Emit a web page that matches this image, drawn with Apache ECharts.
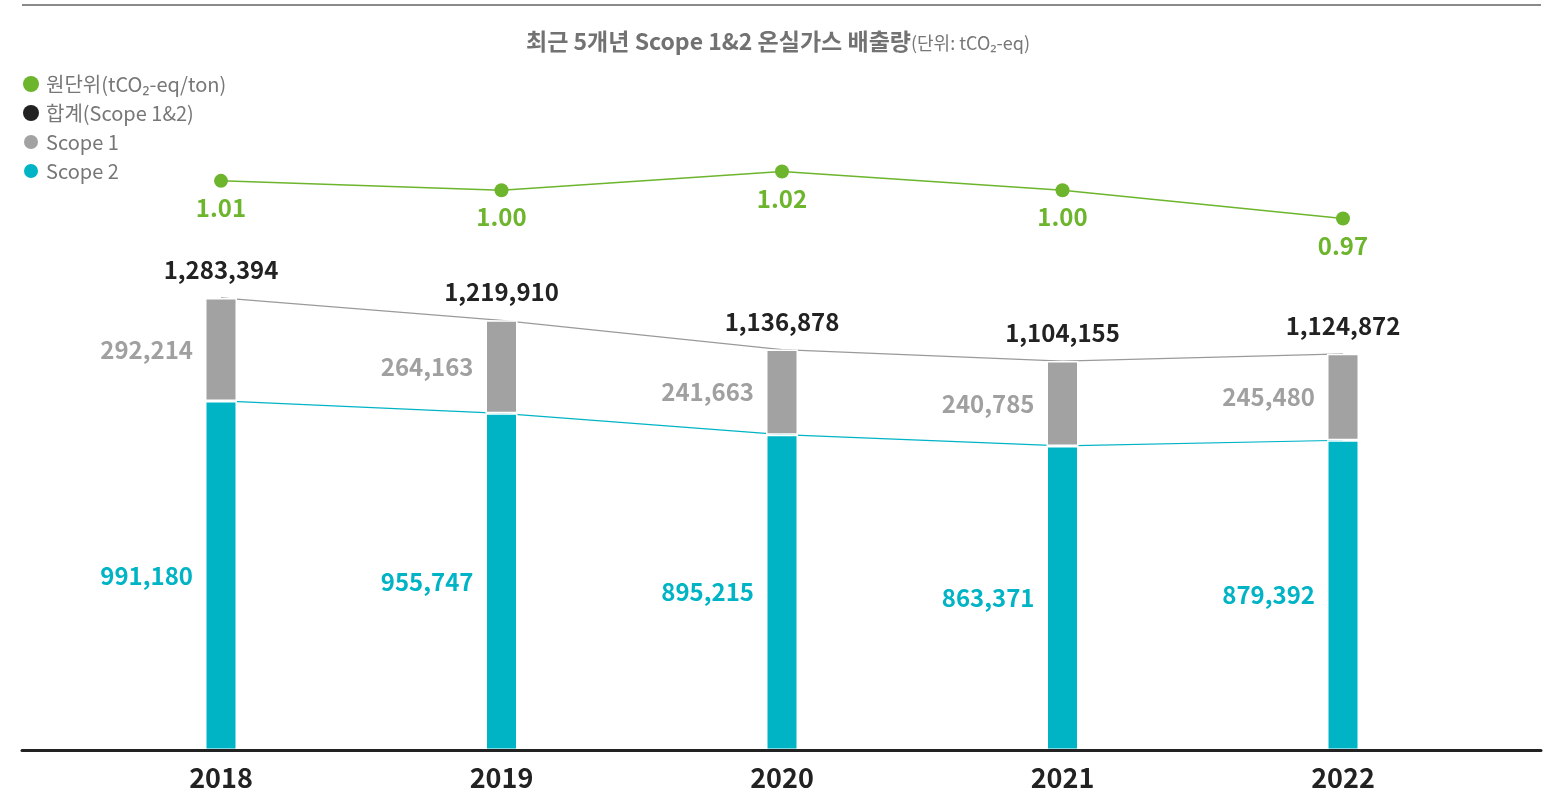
<!DOCTYPE html>
<html>
<head>
<meta charset="utf-8">
<script src="https://cdn.jsdelivr.net/npm/echarts@6/dist/echarts.min.js"></script>
<style>
html, body { margin: 0; padding: 0; background: #fff; }
#chart { width: 1556px; height: 798px; }
</style>
</head>
<body>
<div id="chart"></div>
<script>
var years = ['2018', '2019', '2020', '2021', '2022'];
var scope1 = [292214, 264163, 241663, 240785, 245480];
var scope2 = [991180, 955747, 895215, 863371, 879392];
var totals = [1283394, 1219910, 1136878, 1104155, 1124872];
var intensity = [1.01, 1.00, 1.02, 1.00, 0.97];

var font = '"Noto Sans CJK KR", "Noto Sans", sans-serif';
var green = '#6cb52d', teal = '#00b4c6', grey = '#a2a2a2';

function fmt(v) {
	return v.toLocaleString('en-US');
}

var chart = echarts.init(document.getElementById('chart'));
chart.setOption({
	animation: false,
	textStyle: { fontFamily: font },
	title: {
		text: '{main|최근 5개년 Scope 1&2 온실가스 배출량}{unit|(단위: tCO₂-eq)}',
		left: 'center',
		top: 25,
		textStyle: {
			rich: {
				main: { fontFamily: font, fontSize: 23, fontWeight: 'bold', color: '#727272' },
				unit: { fontFamily: font, fontSize: 18, fontWeight: 'normal', color: '#777', padding: [4, 0, 0, 0] }
			}
		}
	},
	graphic: [ {
		type: 'line',
		shape: { x1: 22, y1: 5, x2: 1541, y2: 5 },
		style: { stroke: '#8a8a8a', lineWidth: 2 }
	} ],
	legend: {
		orient: 'vertical',
		left: 22,
		top: 74,
		padding: 0,
		itemWidth: 16,
		itemHeight: 16,
		itemGap: 9,
		icon: 'circle',
		textStyle: { fontFamily: font, fontSize: 20, color: '#777', padding: [0, 0, 0, 2] },
		data: [
			{ name: '원단위(tCO₂-eq/ton)', itemStyle: { color: green } },
			{ name: '합계(Scope 1&2)', itemStyle: { color: '#222' } },
			{ name: 'Scope 1', itemStyle: { color: grey } },
			{ name: 'Scope 2', itemStyle: { color: teal } }
		]
	},
	grid: [
		{ left: 80.75, width: 1402.5, top: 98.4, bottom: 48 },
		{ left: 22, right: 15, top: 98.4, bottom: 48 }
	],
	xAxis: [ {
		type: 'category',
		gridIndex: 0,
		data: years,
		axisLine: { show: false },
		axisTick: { show: false },
		axisLabel: { margin: 14, fontSize: 27, fontWeight: 'bold', color: '#222', fontFamily: font }
	}, {
		type: 'value',
		gridIndex: 1,
		min: 0,
		max: 1,
		z: 10,
		axisLine: { show: true, onZero: false, lineStyle: { color: '#222', width: 3 } },
		axisTick: { show: false },
		axisLabel: { show: false },
		splitLine: { show: false }
	} ],
	yAxis: [ {
		type: 'value',
		gridIndex: 0,
		min: 0,
		max: 1850000,
		show: false
	}, {
		type: 'value',
		gridIndex: 0,
		min: 0.406,
		max: 1.0975,
		show: false
	}, {
		type: 'value',
		gridIndex: 1,
		show: false
	} ],
	series: [ {
		name: 'Scope 2',
		type: 'bar',
		stack: 'em',
		data: scope2,
		barWidth: 32,
		z: 3,
		itemStyle: { color: teal, borderColor: '#fff', borderWidth: 1.5 },
		label: {
			show: true,
			position: 'left',
			distance: 12,
			fontSize: 24,
			fontWeight: 'bold',
			color: teal,
			fontFamily: font,
			formatter: function(p) { return fmt(p.value); }
		}
	}, {
		name: 'Scope 1',
		type: 'bar',
		stack: 'em',
		data: scope1,
		barWidth: 32,
		z: 3,
		itemStyle: { color: grey, borderColor: '#fff', borderWidth: 1.5 },
		label: {
			show: true,
			position: 'left',
			distance: 12,
			fontSize: 24,
			fontWeight: 'bold',
			color: '#a0a0a0',
			fontFamily: font,
			formatter: function(p) { return fmt(p.value); }
		}
	}, {
		name: '합계(Scope 1&2)',
		type: 'line',
		data: totals,
		z: 2,
		symbol: 'circle',
		symbolSize: 0,
		showSymbol: true,
		lineStyle: { color: '#9a9a9a', width: 1.2 },
		itemStyle: { color: '#222' },
		label: {
			show: true,
			position: 'top',
			distance: 16,
			fontSize: 24,
			fontWeight: 'bold',
			color: '#222',
			fontFamily: font,
			formatter: function(p) { return fmt(p.value); }
		}
	}, {
		name: 'scope2line',
		type: 'line',
		data: scope2,
		z: 2,
		symbol: 'none',
		lineStyle: { color: teal, width: 1.2 }
	}, {
		name: '원단위(tCO₂-eq/ton)',
		type: 'line',
		yAxisIndex: 1,
		data: intensity,
		z: 4,
		symbol: 'circle',
		symbolSize: 14,
		lineStyle: { color: green, width: 1.5 },
		itemStyle: { color: green },
		label: {
			show: true,
			position: 'bottom',
			distance: 8,
			fontSize: 24,
			fontWeight: 'bold',
			color: green,
			fontFamily: font,
			formatter: function(p) { return p.value.toFixed(2); }
		}
	} ]
});
</script>
</body>
</html>
